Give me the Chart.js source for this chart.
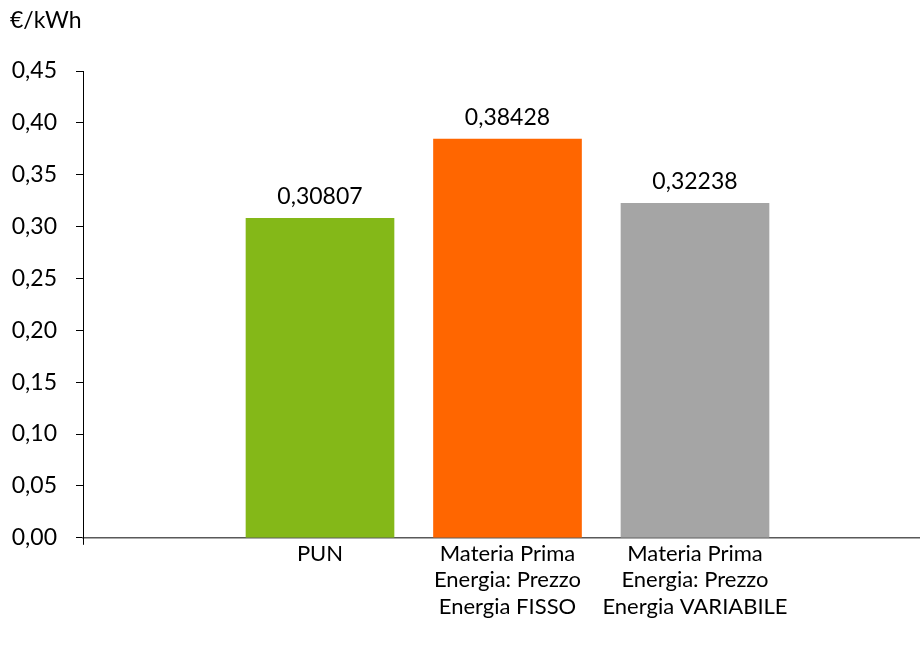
<!DOCTYPE html>
<html lang="it">
<head>
<meta charset="utf-8">
<title>PUN e Materia Prima Energia</title>
<script src="https://cdn.jsdelivr.net/npm/chart.js@4.4.1/dist/chart.umd.min.js"></script>
<style>
  html, body { margin: 0; padding: 0; background: #fff; }
  #wrap { width: 920px; height: 653px; position: relative; }
</style>
</head>
<body>
<div id="wrap"><canvas id="chart"></canvas></div>
<script>
// categories (multi-line labels) and values in €/kWh
const categories = [
  ['PUN'],
  ['Materia Prima', 'Energia: Prezzo', 'Energia FISSO'],
  ['Materia Prima', 'Energia: Prezzo', 'Energia VARIABILE']
];
const values = [0.30807, 0.38428, 0.32238];
const barColors = ['#84B818', '#FF6600', '#A5A5A5'];
const unitLabel = '€/kWh';
const yMax = 0.45;
const yStep = 0.05;

const FONT = 'Lato, "Open Sans", sans-serif';
const fmt = (v, d) => v.toFixed(d).replace('.', ',');

Chart.defaults.font.family = FONT;
Chart.defaults.font.size = 22;
Chart.defaults.color = '#000';

// value over each bar, unit text top-left, small tick where the axes meet
const labelsPlugin = {
  id: 'labelsPlugin',
  afterDatasetsDraw(chart) {
    const ctx = chart.ctx;
    const meta = chart.getDatasetMeta(0);
    const area = chart.chartArea;
    ctx.save();
    ctx.font = '23px ' + FONT;
    ctx.fillStyle = '#000';
    ctx.textAlign = 'center';
    ctx.textBaseline = 'bottom';
    meta.data.forEach((bar, i) => {
      ctx.fillText(fmt(values[i], 5), bar.x, bar.y - 10);
    });
    ctx.textAlign = 'left';
    ctx.textBaseline = 'middle';
    ctx.fillText(unitLabel, 10, 21);

    ctx.strokeStyle = '#000';
    ctx.lineWidth = 1;
    ctx.beginPath();
    ctx.moveTo(area.left + 0.5, area.bottom);
    ctx.lineTo(area.left + 0.5, area.bottom + 7);
    ctx.stroke();
    ctx.restore();
  }
};

new Chart(document.getElementById('chart'), {
  type: 'bar',
  data: {
    datasets: [{
      data: values.map((v, i) => ({ x: i + 1, y: v })),
      backgroundColor: barColors,
      barThickness: 148,
      borderWidth: 0
    }]
  },
  options: {
    responsive: true,
    maintainAspectRatio: false,
    animation: false,
    layout: { padding: { top: 71, left: 10, right: 0, bottom: 30 } },
    plugins: {
      legend: { display: false },
      tooltip: { enabled: false }
    },
    scales: {
      x: {
        type: 'linear',
        offset: false,
        min: -0.264,
        max: 4.2,
        afterBuildTicks(scale) {
          scale.ticks = [1, 2, 3].map(v => ({ value: v }));
        },
        ticks: {
          autoSkip: false,
          maxRotation: 0,
          padding: 3,
          callback: (v) => categories[v - 1] || ''
        },
        grid: { display: false, drawTicks: false },
        border: { display: true, color: '#595959', width: 1.5 }
      },
      y: {
        min: 0,
        max: yMax,
        afterFit(scale) { scale.width = 73; },
        ticks: {
          stepSize: yStep,
          padding: 19,
          font: { size: 23 },
          callback: (v) => fmt(v, 2)
        },
        grid: {
          drawOnChartArea: false,
          drawTicks: true,
          tickLength: 7,
          color: '#000',
          lineWidth: 1
        },
        border: { display: true, color: '#000', width: 1 }
      }
    }
  },
  plugins: [labelsPlugin]
});
</script>
</body>
</html>
